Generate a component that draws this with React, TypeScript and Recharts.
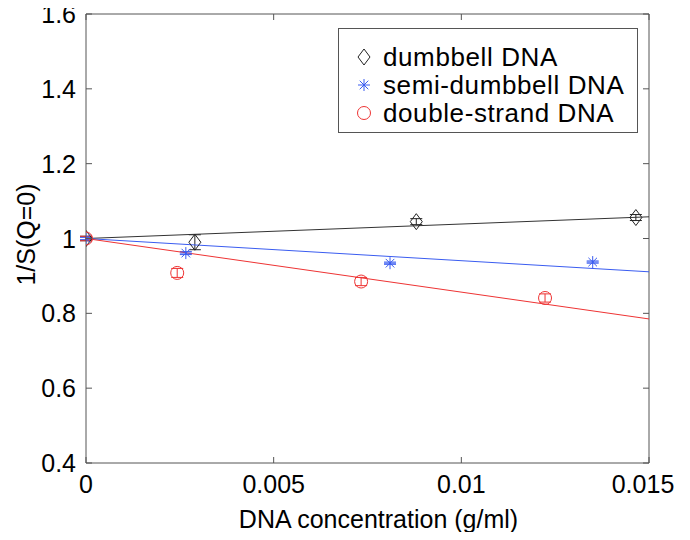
import { ScatterChart, Scatter, XAxis, YAxis, ErrorBar } from "recharts";

const xDumbbell = [0, 0.0029, 0.0088, 0.01465];
const yDumbbell = [1.0, 0.99, 1.045, 1.056];
const errDumbbell = [0.006, 0.02, 0.008, 0.008];

const xSemi = [0, 0.00266, 0.0081, 0.0135];
const ySemi = [1.0, 0.961, 0.934, 0.937];
const errSemi = [0.003, 0.004, 0.003, 0.003];

const xDouble = [0, 0.00243, 0.00733, 0.01223];
const yDouble = [1.0, 0.908, 0.885, 0.841];
const errDouble = [0.006, 0.012, 0.011, 0.011];

// linear fits (end points)
const fitX = [0, 0.015];
const fitDumbbell = [1.0, 1.058];
const fitSemi = [1.0, 0.911];
const fitDouble = [1.0, 0.785];

const xTicks = [0, 0.005, 0.01, 0.015];
const xTickLabels = ["0", "0.005", "0.01", "0.015"];
const yTicks = [0.4, 0.6, 0.8, 1, 1.2, 1.4, 1.6];
const yTickLabels = ["0.4", "0.6", "0.8", "1", "1.2", "1.4", "1.6"];

const series = [
  { name: "dumbbell DNA", color: "#222", xs: xDumbbell, ys: yDumbbell, errs: errDumbbell, marker: "diamond" },
  { name: "semi-dumbbell DNA", color: "#3a5cf0", xs: xSemi, ys: ySemi, errs: errSemi, marker: "star" },
  { name: "double-strand DNA", color: "#ee3333", xs: xDouble, ys: yDouble, errs: errDouble, marker: "circle" },
];
const fits = [
  { color: "#333", ys: fitDumbbell },
  { color: "#3a5cf0", ys: fitSemi },
  { color: "#ee3333", ys: fitDouble },
];

const FONT = "'Liberation Sans', Arial, Helvetica, sans-serif";
const AXIS = "#555";

const toPoints = (xs: number[], ys: number[], errs?: number[]) =>
  xs.map((x, i) => ({ x, y: ys[i], err: errs ? errs[i] : 0 }));

function Marker({ kind, cx, cy, color }: { kind: string; cx: number; cy: number; color: string }) {
  if (kind === "diamond") {
    return (
      <path
        d={`M${cx},${cy - 8} L${cx + 6},${cy} L${cx},${cy + 8} L${cx - 6},${cy} Z`}
        fill="none"
        stroke={color}
        strokeWidth={1}
      />
    );
  }
  if (kind === "star") {
    const r = 6;
    const d = 4.3;
    return (
      <g stroke={color} strokeWidth={1}>
        <line x1={cx - r} y1={cy} x2={cx + r} y2={cy} />
        <line x1={cx} y1={cy - r} x2={cx} y2={cy + r} />
        <line x1={cx - d} y1={cy - d} x2={cx + d} y2={cy + d} />
        <line x1={cx - d} y1={cy + d} x2={cx + d} y2={cy - d} />
      </g>
    );
  }
  return <circle cx={cx} cy={cy} r={6.5} fill="none" stroke={color} strokeWidth={1} />;
}

const XTick = ({ x, y, payload }: any) => {
  const i = xTicks.indexOf(payload.value);
  // last label sits a little left of its tick in the original
  const dx = i === xTicks.length - 1 ? -6 : 0;
  return (
    <g>
      <line x1={x} y1={y} x2={x} y2={y - 6} stroke={AXIS} />
      <text x={x + dx} y={y + 30} textAnchor="middle" fontSize={25} fontFamily={FONT} fill="#000">
        {xTickLabels[i]}
      </text>
    </g>
  );
};

const TopTick = ({ x, y }: any) => <line x1={x} y1={y} x2={x} y2={y + 6} stroke={AXIS} />;

const YTick = ({ x, y, payload }: any) => {
  const i = yTicks.indexOf(payload.value);
  return (
    <g>
      <line x1={x} y1={y} x2={x + 6} y2={y} stroke={AXIS} />
      <text x={x - 10} y={y + 9} textAnchor="end" fontSize={25} fontFamily={FONT} fill="#000">
        {yTickLabels[i]}
      </text>
    </g>
  );
};

const RightTick = ({ x, y }: any) => <line x1={x} y1={y} x2={x - 6} y2={y} stroke={AXIS} />;

const LegendBox = () => (
  <div
    style={{
      position: "absolute",
      left: 338,
      top: 28,
      border: "1px solid #555",
      background: "#fff",
      width: 300,
      height: 105,
      boxSizing: "border-box",
      fontFamily: FONT,
      fontSize: 26,
      letterSpacing: 0.6,
      paddingTop: 14,
    }}
  >
    {series.map((s) => (
      <div key={s.name} style={{ display: "flex", alignItems: "center", height: 28 }}>
        <svg width={44} height={28}>
          <Marker kind={s.marker} cx={25} cy={14} color={s.color} />
        </svg>
        <span style={{ color: "#000", lineHeight: "28px" }}>{s.name}</span>
      </div>
    ))}
  </div>
);

export default function App() {
  return (
    <div style={{ position: "relative", margin: -8, width: 690, height: 540 }}>
      <ScatterChart width={690} height={540} margin={{ top: 0, right: 0, bottom: 0, left: 0 }}>
        <XAxis
          dataKey="x"
          type="number"
          domain={[0, 0.015]}
          ticks={xTicks}
          height={77}
          tickSize={0}
          tickMargin={0}
          tickLine={false}
          axisLine={{ stroke: AXIS }}
          tick={<XTick />}
          interval={0}
          allowDataOverflow
          label={({ viewBox }: any) => (
            <text
              x={viewBox.x + viewBox.width / 2 + 11}
              y={viewBox.y + 65}
              textAnchor="middle"
              fontSize={25}
              fontFamily={FONT}
              fill="#000"
            >
              DNA concentration (g/ml)
            </text>
          )}
        />
        <XAxis
          xAxisId="top"
          orientation="top"
          dataKey="x"
          type="number"
          domain={[0, 0.015]}
          ticks={xTicks}
          height={14}
          tickSize={0}
          tickMargin={0}
          tickLine={false}
          axisLine={{ stroke: AXIS }}
          tick={<TopTick />}
          interval={0}
          allowDataOverflow
        />
        <YAxis
          dataKey="y"
          type="number"
          domain={[0.4, 1.6]}
          ticks={yTicks}
          width={86}
          tickSize={0}
          tickMargin={0}
          tickLine={false}
          axisLine={{ stroke: AXIS }}
          tick={<YTick />}
          interval={0}
          allowDataOverflow
          label={({ viewBox }: any) => {
            const cx = 26;
            const cy = viewBox.y + viewBox.height / 2 - 4;
            return (
              <text
                x={cx}
                y={cy}
                transform={`rotate(-90 ${cx} ${cy})`}
                dy={9}
                textAnchor="middle"
                fontSize={25}
                fontFamily={FONT}
                fill="#000"
              >
                1/S(Q=0)
              </text>
            );
          }}
        />
        <YAxis
          yAxisId="right"
          orientation="right"
          dataKey="y"
          type="number"
          domain={[0.4, 1.6]}
          ticks={yTicks}
          width={41}
          tickSize={0}
          tickMargin={0}
          tickLine={false}
          axisLine={{ stroke: AXIS }}
          tick={<RightTick />}
          interval={0}
          allowDataOverflow
        />
        {fits.map((f, i) => (
          <Scatter
            key={`fit-${i}`}
            data={toPoints(fitX, f.ys)}
            line={{ stroke: f.color, strokeWidth: 1 }}
            shape={() => <g />}
            legendType="none"
            isAnimationActive={false}
          />
        ))}
        {series.map((s) => (
          <Scatter
            key={s.name}
            name={s.name}
            data={toPoints(s.xs, s.ys, s.errs)}
            shape={(p: any) => <Marker kind={s.marker} cx={p.cx} cy={p.cy} color={s.color} />}
            isAnimationActive={false}
          >
            <ErrorBar dataKey="err" direction="y" width={6} stroke={s.color} strokeWidth={1} />
          </Scatter>
        ))}
      </ScatterChart>
      <LegendBox />
    </div>
  );
}
